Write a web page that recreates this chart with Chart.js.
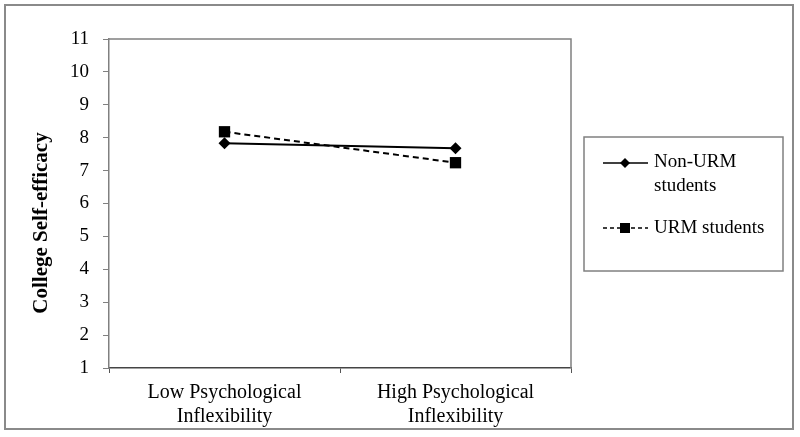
<!DOCTYPE html>
<html>
<head>
<meta charset="utf-8">
<script src="https://cdn.jsdelivr.net/npm/chart.js@4"></script>
<style>
  html, body { margin: 0; padding: 0; background: #fff; }
  #c { display: block; }
</style>
</head>
<body>
<canvas id="c" width="800" height="437"></canvas>
<script>
const categories = [["Low Psychological", "Inflexibility"], ["High Psychological", "Inflexibility"]];
const nonUrmLabel = "Non-URM students";
const urmLabel = "URM students";
const nonUrmValues = [7.83, 7.68];
const urmValues = [8.18, 7.24];
const yTicks = [1, 2, 3, 4, 5, 6, 7, 8, 9, 10, 11];
const yTitle = "College Self-efficacy";

const FONT = "'Liberation Serif', 'Times New Roman', serif";

const framePlugin = {
  id: 'frame',
  beforeDraw(chart) {
    const ctx = chart.ctx;
    ctx.save();
    ctx.fillStyle = '#fff';
    ctx.fillRect(0, 0, chart.width, chart.height);
    ctx.strokeStyle = '#8a8a8a';
    ctx.lineWidth = 2;
    ctx.strokeRect(5, 5, 788, 424);
    ctx.restore();
  },
  afterDraw(chart) {
    const ctx = chart.ctx;
    const a = chart.chartArea;
    ctx.save();
    ctx.strokeStyle = '#808080';
    ctx.lineWidth = 1.5;
    ctx.beginPath();
    ctx.moveTo(a.left, a.top);
    ctx.lineTo(a.right, a.top);
    ctx.lineTo(a.right, a.bottom);
    ctx.stroke();

    ctx.fillStyle = '#000';
    ctx.font = "bold 21px " + FONT;
    ctx.textAlign = 'center';
    ctx.textBaseline = 'middle';
    ctx.translate(42, 223);
    ctx.rotate(-Math.PI / 2);
    ctx.fillText(yTitle, 0, 0);
    ctx.restore();

    ctx.save();
    ctx.strokeStyle = '#808080';
    ctx.lineWidth = 1.5;
    ctx.strokeRect(584, 137, 199, 134);
    ctx.fillStyle = '#000';
    ctx.strokeStyle = '#000';
    ctx.font = "19px " + FONT;
    ctx.textAlign = 'left';
    ctx.textBaseline = 'middle';
    const ds = chart.data.datasets;
    ctx.lineWidth = 1.5;
    ctx.setLineDash([]);
    ctx.beginPath(); ctx.moveTo(603, 163); ctx.lineTo(648, 163); ctx.stroke();
    ctx.beginPath();
    ctx.moveTo(620, 163); ctx.lineTo(625, 158); ctx.lineTo(630, 163); ctx.lineTo(625, 168); ctx.closePath();
    ctx.fill();
    const w1 = ds[0].label.split(' ');
    ctx.fillText(w1[0], 654, 162);
    ctx.fillText(w1.slice(1).join(' '), 654, 186);
    ctx.setLineDash([4, 3]);
    ctx.beginPath(); ctx.moveTo(603, 228); ctx.lineTo(648, 228); ctx.stroke();
    ctx.setLineDash([]);
    ctx.fillRect(620, 223, 10, 10);
    ctx.fillText(ds[1].label, 654, 228);
    ctx.restore();
  }
};

new Chart(document.getElementById('c'), {
  type: 'line',
  data: {
    labels: categories,
    datasets: [
      {
        label: nonUrmLabel,
        data: nonUrmValues,
        borderColor: '#000',
        backgroundColor: '#000',
        borderWidth: 2,
        pointStyle: 'rectRot',
        pointRadius: 6,
        pointBorderWidth: 0,
        tension: 0,
        fill: false
      },
      {
        label: urmLabel,
        data: urmValues,
        borderColor: '#000',
        backgroundColor: '#000',
        borderWidth: 2,
        borderDash: [6, 4],
        pointStyle: 'rect',
        pointRadius: 8,
        pointBorderWidth: 0,
        tension: 0,
        fill: false
      }
    ]
  },
  options: {
    responsive: false,
    animation: false,
    devicePixelRatio: 1,
    layout: { padding: { left: 0, right: 229, top: 39, bottom: 0 } },
    plugins: {
      legend: { display: false },
      tooltip: { enabled: false }
    },
    scales: {
      x: {
        type: 'category',
        offset: true,
        grid: {
          offset: true,
          drawOnChartArea: false,
          drawTicks: true,
          tickLength: 5,
          color: '#555'
        },
        border: { display: true, color: '#444', width: 1.5 },
        ticks: {
          color: '#000',
          font: { family: FONT, size: 20, lineHeight: 1.2 },
          padding: 8,
          maxRotation: 0,
          autoSkip: false
        },
        afterFit(scale) { scale.height = 69; }
      },
      y: {
        min: yTicks[0],
        max: yTicks[yTicks.length - 1],
        afterBuildTicks(scale) { scale.ticks = yTicks.map(v => ({ value: v })); },
        grid: {
          drawOnChartArea: false,
          drawTicks: true,
          tickLength: 6,
          color: '#808080'
        },
        border: { display: true, color: '#808080', width: 1.5 },
        ticks: {
          color: '#000',
          font: { family: FONT, size: 19 },
          padding: 14
        },
        afterFit(scale) { scale.width = 109; }
      }
    }
  },
  plugins: [framePlugin]
});
</script>
</body>
</html>
